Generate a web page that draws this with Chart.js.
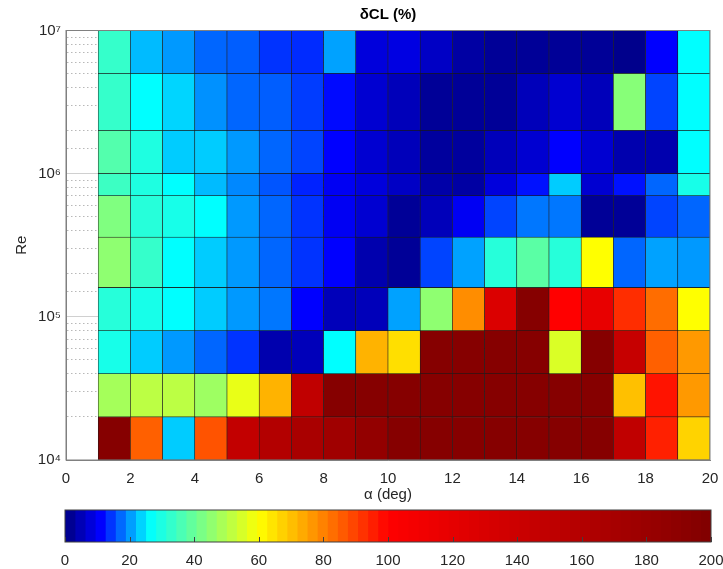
<!DOCTYPE html>
<html>
<head>
<meta charset="utf-8">
<script src="https://cdn.jsdelivr.net/npm/chart.js@4.4.0/dist/chart.umd.min.js"></script>
<style>
  html, body { margin: 0; padding: 0; background: #fff; }
  #wrap { position: relative; width: 723px; height: 569px; overflow: hidden; }
  #main { position: absolute; left: 0; top: 0; }
  #cbar { position: absolute; left: 0; top: 505px; }
</style>
</head>
<body>
<div id="wrap">
  <canvas id="main" width="723" height="505"></canvas>
  <canvas id="cbar" width="723" height="64"></canvas>
</div>
<script>
// cell edges: angle of attack (deg) and Reynolds number
const alphaEdges = [1, 2, 3, 4, 5, 6, 7, 8, 9, 10, 11, 12, 13, 14, 15, 16, 17, 18, 19, 20];
const reEdges = [1e4, 2e4, 4e4, 8e4, 1.6e5, 3.6e5, 7e5, 1e6, 2e6, 5e6, 1e7];

// dCL (%) per Re band, one value per alpha cell (alpha 1..19)
const re10k  = [195, 85, 23, 87, 148, 160, 168, 175, 185, 195, 195, 195, 195, 195, 195, 195, 150, 95, 67];
const re20k  = [48, 51, 51, 47, 57, 72, 150, 195, 195, 195, 195, 195, 195, 195, 195, 195, 70, 97, 76];
const re40k  = [29, 23, 20, 17, 14, 4, 5, 26, 72, 65, 195, 195, 195, 195, 55, 195, 145, 85, 76];
const re80k  = [31, 29, 26, 23, 20, 18, 11, 5, 5, 20.5, 45, 78, 128, 195, 100, 118, 93, 83, 60];
const re160k = [45, 33, 26, 23, 20, 17, 14, 11, 4, 2, 15, 20.5, 31, 38, 31, 60, 17, 20.5, 20];
const re360k = [43, 31, 29, 26, 20, 17, 14, 10, 7, 2, 5, 10, 15, 18, 18, 2, 2, 15, 17];
const re700k = [34, 30, 26, 22, 19, 16, 13, 10, 8, 6, 3.5, 3, 8, 12, 23, 7, 12, 17, 29];
const re1M   = [37, 30, 23, 23, 20, 17, 15, 11, 7, 5, 2.5, 2.5, 5, 7, 11, 7, 4, 4, 26];
const re2M   = [33, 26, 23.5, 19.5, 17, 16.5, 14.5, 11.5, 7, 5, 2, 2, 2, 5, 7, 5, 44, 15, 26];
const re5M   = [33, 22, 20, 17, 16.5, 14, 13.5, 20.5, 8, 8.5, 6, 3, 2, 2, 2, 2, 1, 11, 26];
const rows = [re10k, re20k, re40k, re80k, re160k, re360k, re700k, re1M, re2M, re5M];

// colour scale: jet squeezed into 0..100, then red -> dark red up to 200
const cmapPos = [0, 11, 26, 43, 60, 80, 100, 200];
const cmapRGB = [[0,0,128],[0,0,255],[0,255,255],[128,255,128],[255,255,0],[255,128,0],[255,0,0],[128,0,0]];
const cbarTicks = [0, 20, 40, 60, 80, 100, 120, 140, 160, 180, 200];

function colorFor(v) {
  v = Math.max(0, Math.min(200, v));
  let i = 0;
  while (i < cmapPos.length - 2 && v > cmapPos[i + 1]) i++;
  const t = (v - cmapPos[i]) / (cmapPos[i + 1] - cmapPos[i]);
  const a = cmapRGB[i], b = cmapRGB[i + 1];
  const c = a.map((x, k) => Math.round(x + (b[k] - x) * t));
  return `rgb(${c[0]},${c[1]},${c[2]})`;
}

const isPow10 = v => Math.abs(Math.log10(v) - Math.round(Math.log10(v))) < 1e-9;
const sup = { 4: '⁴', 5: '⁵', 6: '⁶', 7: '⁷' };
const FONT = "'Liberation Sans', Arial, Helvetica, sans-serif";
const TXT = '#262626';

// box round the plot area, plus optional inward ticks on the x axis
const framePlugin = {
  id: 'frame',
  afterDatasetsDraw(chart, args, opts) {
    const { ctx, chartArea: a } = chart;
    ctx.save();
    ctx.strokeStyle = opts.color || '#808080';
    ctx.lineWidth = 1;
    if (opts.innerTicks) {
      const xs = chart.scales.x;
      ctx.beginPath();
      xs.ticks.forEach(t => {
        const px = Math.round(xs.getPixelForValue(t.value)) + 0.5;
        ctx.moveTo(px, a.bottom);
        ctx.lineTo(px, a.bottom - opts.innerTicks);
      });
      ctx.stroke();
    }
    ctx.strokeRect(a.left, a.top, a.right - a.left, a.bottom - a.top);
    ctx.restore();
  }
};

new Chart(document.getElementById('main'), {
  type: 'bar',
  plugins: [framePlugin],
  data: {
    datasets: rows.map((vals, r) => ({
      grouped: false,
      data: vals.map((v, i) => ({ x: (alphaEdges[i] + alphaEdges[i + 1]) / 2, y: [reEdges[r], reEdges[r + 1]] })),
      backgroundColor: vals.map(colorFor),
      borderColor: '#1a1a1a',
      borderWidth: 0.6,
      borderSkipped: false,
      barPercentage: 1,
      categoryPercentage: 1,
    })),
  },
  options: {
    responsive: false,
    animation: false,
    events: [],
    layout: { padding: { left: 0, right: 13, top: 0, bottom: 0 } },
    plugins: {
      legend: { display: false },
      tooltip: { enabled: false },
      frame: { color: '#808080' },
      title: {
        display: true, text: 'δCL (%)', fullSize: false, color: '#000',
        font: { family: FONT, size: 15, weight: 'bold' },
        padding: { top: 6, bottom: 6.5 },
      },
    },
    scales: {
      x: {
        type: 'linear', min: 0, max: 20, offset: false,
        grid: { display: false, offset: false, drawTicks: false },
        border: { color: '#808080' },
        ticks: { stepSize: 2, color: TXT, font: { family: FONT, size: 15 }, padding: 10 },
        title: { display: true, text: 'α (deg)', color: TXT, font: { family: FONT, size: 15 }, padding: { top: 0, bottom: 1 } },
        afterFit: s => { s.height = 45; s.paddingLeft = 0; s.paddingRight = 0; },
      },
      y: {
        type: 'logarithmic', min: 1e4, max: 1e7,
        grid: {
          drawTicks: false,
          color: ctx => (ctx.tick && isPow10(ctx.tick.value)) ? '#d0d0d0' : '#b8b8b8',
        },
        border: {
          color: '#808080',
          dash: ctx => (ctx.tick && !isPow10(ctx.tick.value)) ? [1.5, 2.5] : [],
        },
        ticks: {
          autoSkip: false, color: TXT, padding: 5,
          font: { family: FONT, size: 15 },
          callback: v => isPow10(v) ? '10' + sup[Math.round(Math.log10(v))] : '',
        },
        title: { display: true, text: 'Re', color: TXT, font: { family: FONT, size: 15 }, padding: { top: 13, bottom: 0 } },
        afterFit: s => { s.width = 66; s.paddingTop = 0; s.paddingBottom = 0; },
      },
    },
  },
});

// colour bar
const cbStep = 200 / 64;
const cbBands = [];
for (let k = 0; k < 64; k++) cbBands.push(k * cbStep);

new Chart(document.getElementById('cbar'), {
  type: 'bar',
  plugins: [framePlugin],
  data: {
    labels: [''],
    datasets: cbBands.map((lo, k) => ({
      grouped: false,
      data: [[k ? lo - 0.6 : lo, lo + cbStep]],
      backgroundColor: colorFor(lo + cbStep / 2),
      borderWidth: 0,
      barPercentage: 1,
      categoryPercentage: 1,
    })),
  },
  options: {
    indexAxis: 'y',
    responsive: false,
    animation: false,
    events: [],
    layout: { padding: { left: 65, right: 12, top: 5, bottom: 0 } },
    plugins: { legend: { display: false }, tooltip: { enabled: false }, frame: { color: '#404040', innerTicks: 5 } },
    scales: {
      x: {
        type: 'linear', min: 0, max: 200, offset: false,
        grid: { display: false, drawTicks: false },
        border: { display: false },
        ticks: {
          color: TXT, font: { family: FONT, size: 15 }, padding: 10,
          callback: v => cbarTicks.includes(v) ? String(v) : '',
          stepSize: 20,
        },
        afterFit: s => { s.height = 27; s.paddingLeft = 0; s.paddingRight = 0; },
      },
      y: { display: false },
    },
  },
});
</script>
</body>
</html>
